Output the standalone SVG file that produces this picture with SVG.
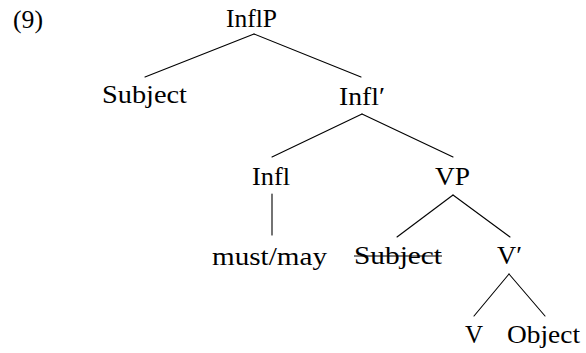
<svg xmlns="http://www.w3.org/2000/svg" width="586" height="353" viewBox="0 0 586 353" font-family="'Liberation Serif', 'Times New Roman', serif">
  <style>
    text { font-size: 25px; fill: #000; text-anchor: middle; }
    .edge { stroke: #000; stroke-width: 1.1; fill: none; stroke-linecap: round; }
  </style>
  <rect width="586" height="353" fill="#fff"/>

  <!-- example number -->
  <text x="28" y="28" textLength="30" lengthAdjust="spacingAndGlyphs">(9)</text>

  <!-- tree edges -->
  <g id="edges">
    <line class="edge" x1="254" y1="34" x2="145" y2="77"/>
    <line class="edge" x1="254" y1="34" x2="361" y2="77"/>
    <line class="edge" x1="362" y1="114" x2="272" y2="157"/>
    <line class="edge" x1="362" y1="114" x2="453" y2="157"/>
    <line class="edge" x1="272" y1="194" x2="272" y2="235"/>
    <line class="edge" x1="453" y1="195" x2="397" y2="237"/>
    <line class="edge" x1="453" y1="195" x2="510" y2="237"/>
    <line class="edge" x1="509" y1="274" x2="474" y2="316"/>
    <line class="edge" x1="509" y1="274" x2="545" y2="316"/>
  </g>

  <!-- nodes -->
  <g id="n-inflp"><text x="251.5" y="27" textLength="51" lengthAdjust="spacingAndGlyphs">InflP</text></g>
  <g id="n-subject"><text x="144.5" y="103" textLength="85" lengthAdjust="spacingAndGlyphs">Subject</text></g>
  <g id="n-inflbar"><text x="362" y="105" textLength="46" lengthAdjust="spacingAndGlyphs">Infl′</text></g>
  <g id="n-infl"><text x="271" y="185" textLength="38" lengthAdjust="spacingAndGlyphs">Infl</text></g>
  <g id="n-vp"><text x="452.5" y="185" textLength="35" lengthAdjust="spacingAndGlyphs">VP</text></g>
  <g id="n-modal"><text x="269.5" y="265" textLength="115" lengthAdjust="spacingAndGlyphs">must/may</text></g>
  <g id="n-subject-trace">
    <text x="398" y="264" textLength="88" lengthAdjust="spacingAndGlyphs">Subject</text>
    <line x1="354" y1="256" x2="442" y2="256" stroke="#000" stroke-width="1.2"/>
  </g>
  <g id="n-vbar"><text x="509.5" y="264" textLength="25" lengthAdjust="spacingAndGlyphs">V′</text></g>
  <g id="n-v"><text x="474" y="343">V</text></g>
  <g id="n-object"><text x="543.5" y="343" textLength="73" lengthAdjust="spacingAndGlyphs">Object</text></g>
</svg>
